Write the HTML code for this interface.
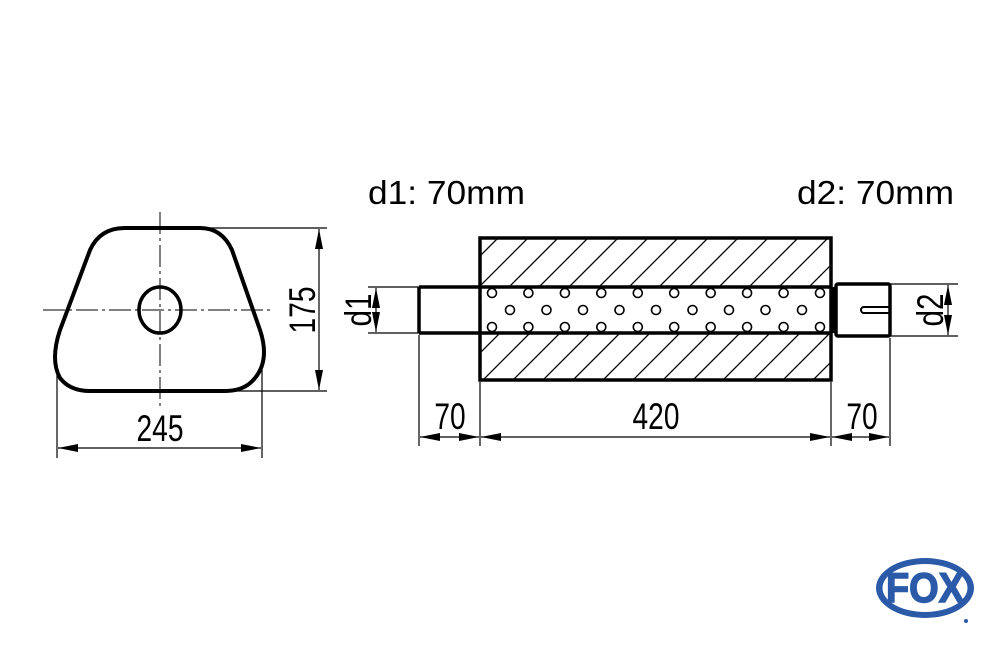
<!DOCTYPE html>
<html><head><style>html,body{margin:0;padding:0;background:#fff}svg{display:block}</style></head>
<body>
<svg width="1000" height="645" viewBox="0 0 1000 645" xmlns="http://www.w3.org/2000/svg">
<defs>
<marker id="a" viewBox="0 0 20 8" refX="20" refY="4" markerWidth="20" markerHeight="8" markerUnits="userSpaceOnUse" orient="auto-start-reverse"><path d="M0,0 L20,4 L0,8 z" fill="#000"/></marker>
<clipPath id="ct"><rect x="480" y="238" width="351" height="49"/></clipPath>
<clipPath id="cb"><rect x="480" y="333" width="351" height="47"/></clipPath>
</defs>
<g font-family="Liberation Sans, Arial, sans-serif" fill="#000">
<text x="368" y="204" font-size="33" textLength="157" lengthAdjust="spacingAndGlyphs">d1: 70mm</text>
<text x="797" y="204" font-size="33" textLength="157" lengthAdjust="spacingAndGlyphs">d2: 70mm</text>
</g>
<!-- left shape -->
<g stroke="#000" fill="none">
<path d="M125,228 L200,228 Q222,228 232,250 L260,330 Q270,360 255,378 Q245,391 225,391 L90,391 Q70,391 60,378 Q50,360 60,330 L90,250 Q100,228 125,228 Z" stroke-width="4"/>
<ellipse cx="160" cy="310" rx="21" ry="23" stroke-width="3.5"/>
<g stroke-width="1" stroke-dasharray="22,4,3,4">
<line x1="43" y1="310" x2="272" y2="310"/>
<line x1="160" y1="212" x2="160" y2="410"/>
</g>
<g stroke-width="1.2">
<line x1="205" y1="228" x2="327" y2="228"/>
<line x1="235" y1="391" x2="327" y2="391"/>
<line x1="319" y1="229" x2="319" y2="390" marker-start="url(#a)" marker-end="url(#a)"/>
<line x1="57" y1="370" x2="57" y2="458"/>
<line x1="262" y1="360" x2="262" y2="458"/>
<line x1="58" y1="448" x2="261" y2="448" marker-start="url(#a)" marker-end="url(#a)"/>
</g>
</g>
<g font-family="Liberation Sans, Arial, sans-serif" font-size="37" fill="#000" text-anchor="middle">
<text transform="translate(160,441) scale(0.76,1)">245</text>
<text transform="translate(315,310) rotate(-90) scale(0.76,1)">175</text>
<text transform="translate(450,429) scale(0.76,1)">70</text>
<text transform="translate(656,429) scale(0.76,1)">420</text>
<text transform="translate(862,429) scale(0.76,1)">70</text>
<text transform="translate(371,310) rotate(-90) scale(0.8,1)">d1</text>
<text transform="translate(943,310) rotate(-90) scale(0.8,1)">d2</text>
</g>
<!-- hatching -->
<g stroke="#000" stroke-width="1.3">
<g clip-path="url(#ct)">
<path d="M466,300 L536,230 M496,300 L566,230 M526,300 L596,230 M556,300 L626,230 M586,300 L656,230 M616,300 L686,230 M646,300 L716,230 M676,300 L746,230 M706,300 L776,230 M736,300 L806,230 M766,300 L836,230 M796,300 L866,230 M826,300 L896,230 M436,300 L506,230"/>
</g>
<g clip-path="url(#cb)">
<path d="M473,390 L543,320 M503,390 L573,320 M533,390 L603,320 M563,390 L633,320 M593,390 L663,320 M623,390 L693,320 M653,390 L723,320 M683,390 L753,320 M713,390 L783,320 M743,390 L813,320 M773,390 L843,320 M803,390 L873,320 M833,390 L903,320 M443,390 L513,320"/>
</g>
</g>
<!-- holes -->
<g fill="none" stroke="#000" stroke-width="1.6">
<circle cx="492" cy="293" r="4.5"/><circle cx="528.4" cy="293" r="4.5"/><circle cx="564.9" cy="293" r="4.5"/><circle cx="601.3" cy="293" r="4.5"/><circle cx="637.8" cy="293" r="4.5"/><circle cx="674.2" cy="293" r="4.5"/><circle cx="710.7" cy="293" r="4.5"/><circle cx="747.1" cy="293" r="4.5"/><circle cx="783.6" cy="293" r="4.5"/><circle cx="820" cy="293" r="4.5"/>
<circle cx="492" cy="327" r="4.5"/><circle cx="528.4" cy="327" r="4.5"/><circle cx="564.9" cy="327" r="4.5"/><circle cx="601.3" cy="327" r="4.5"/><circle cx="637.8" cy="327" r="4.5"/><circle cx="674.2" cy="327" r="4.5"/><circle cx="710.7" cy="327" r="4.5"/><circle cx="747.1" cy="327" r="4.5"/><circle cx="783.6" cy="327" r="4.5"/><circle cx="820" cy="327" r="4.5"/>
<circle cx="510" cy="310" r="4.5"/><circle cx="546.5" cy="310" r="4.5"/><circle cx="583" cy="310" r="4.5"/><circle cx="619.5" cy="310" r="4.5"/><circle cx="656" cy="310" r="4.5"/><circle cx="692.5" cy="310" r="4.5"/><circle cx="729" cy="310" r="4.5"/><circle cx="765.5" cy="310" r="4.5"/><circle cx="802" cy="310" r="4.5"/>
</g>
<!-- body and pipes -->
<g stroke="#000" fill="none" stroke-width="3.5">
<rect x="480" y="238" width="351" height="142"/>
<line x1="419" y1="287" x2="831" y2="287"/>
<line x1="419" y1="333" x2="831" y2="333"/>
<line x1="419" y1="287" x2="419" y2="333"/>
<rect x="836" y="284" width="54" height="52" rx="2"/>
<line x1="833" y1="287" x2="833" y2="333"/>
</g>
<path d="M889,307 L864,307 A3,3 0 0 0 864,313 L889,313" fill="none" stroke="#000" stroke-width="2"/>
<!-- right dims -->
<g stroke="#000" stroke-width="1.2" fill="none">
<line x1="368" y1="287" x2="419" y2="287"/>
<line x1="368" y1="333" x2="419" y2="333"/>
<line x1="376" y1="288" x2="376" y2="332" marker-start="url(#a)" marker-end="url(#a)"/>
<line x1="890" y1="284" x2="958" y2="284"/>
<line x1="890" y1="336" x2="958" y2="336"/>
<line x1="948" y1="285" x2="948" y2="335" marker-start="url(#a)" marker-end="url(#a)"/>
<line x1="419" y1="335" x2="419" y2="446"/>
<line x1="480" y1="382" x2="480" y2="446"/>
<line x1="831" y1="382" x2="831" y2="446"/>
<line x1="890" y1="338" x2="890" y2="446"/>
<line x1="420" y1="437" x2="479" y2="437" marker-start="url(#a)" marker-end="url(#a)"/>
<line x1="481" y1="437" x2="830" y2="437" marker-start="url(#a)" marker-end="url(#a)"/>
<line x1="832" y1="437" x2="889" y2="437" marker-start="url(#a)" marker-end="url(#a)"/>
</g>
<!-- logo -->
<g>
<ellipse cx="925" cy="588" rx="49" ry="30" fill="#2a5aa8"/>
<ellipse cx="925" cy="588" rx="42.5" ry="24" fill="#fff"/>
<text x="925" y="602" font-family="Liberation Sans, Arial, sans-serif" font-weight="bold" font-size="42" fill="#2a5aa8" stroke="#2a5aa8" stroke-width="1.5" text-anchor="middle" textLength="78" lengthAdjust="spacingAndGlyphs">FOX</text>
<circle cx="966" cy="621" r="2" fill="#2a5aa8"/>
</g>
</svg>
</body></html>
